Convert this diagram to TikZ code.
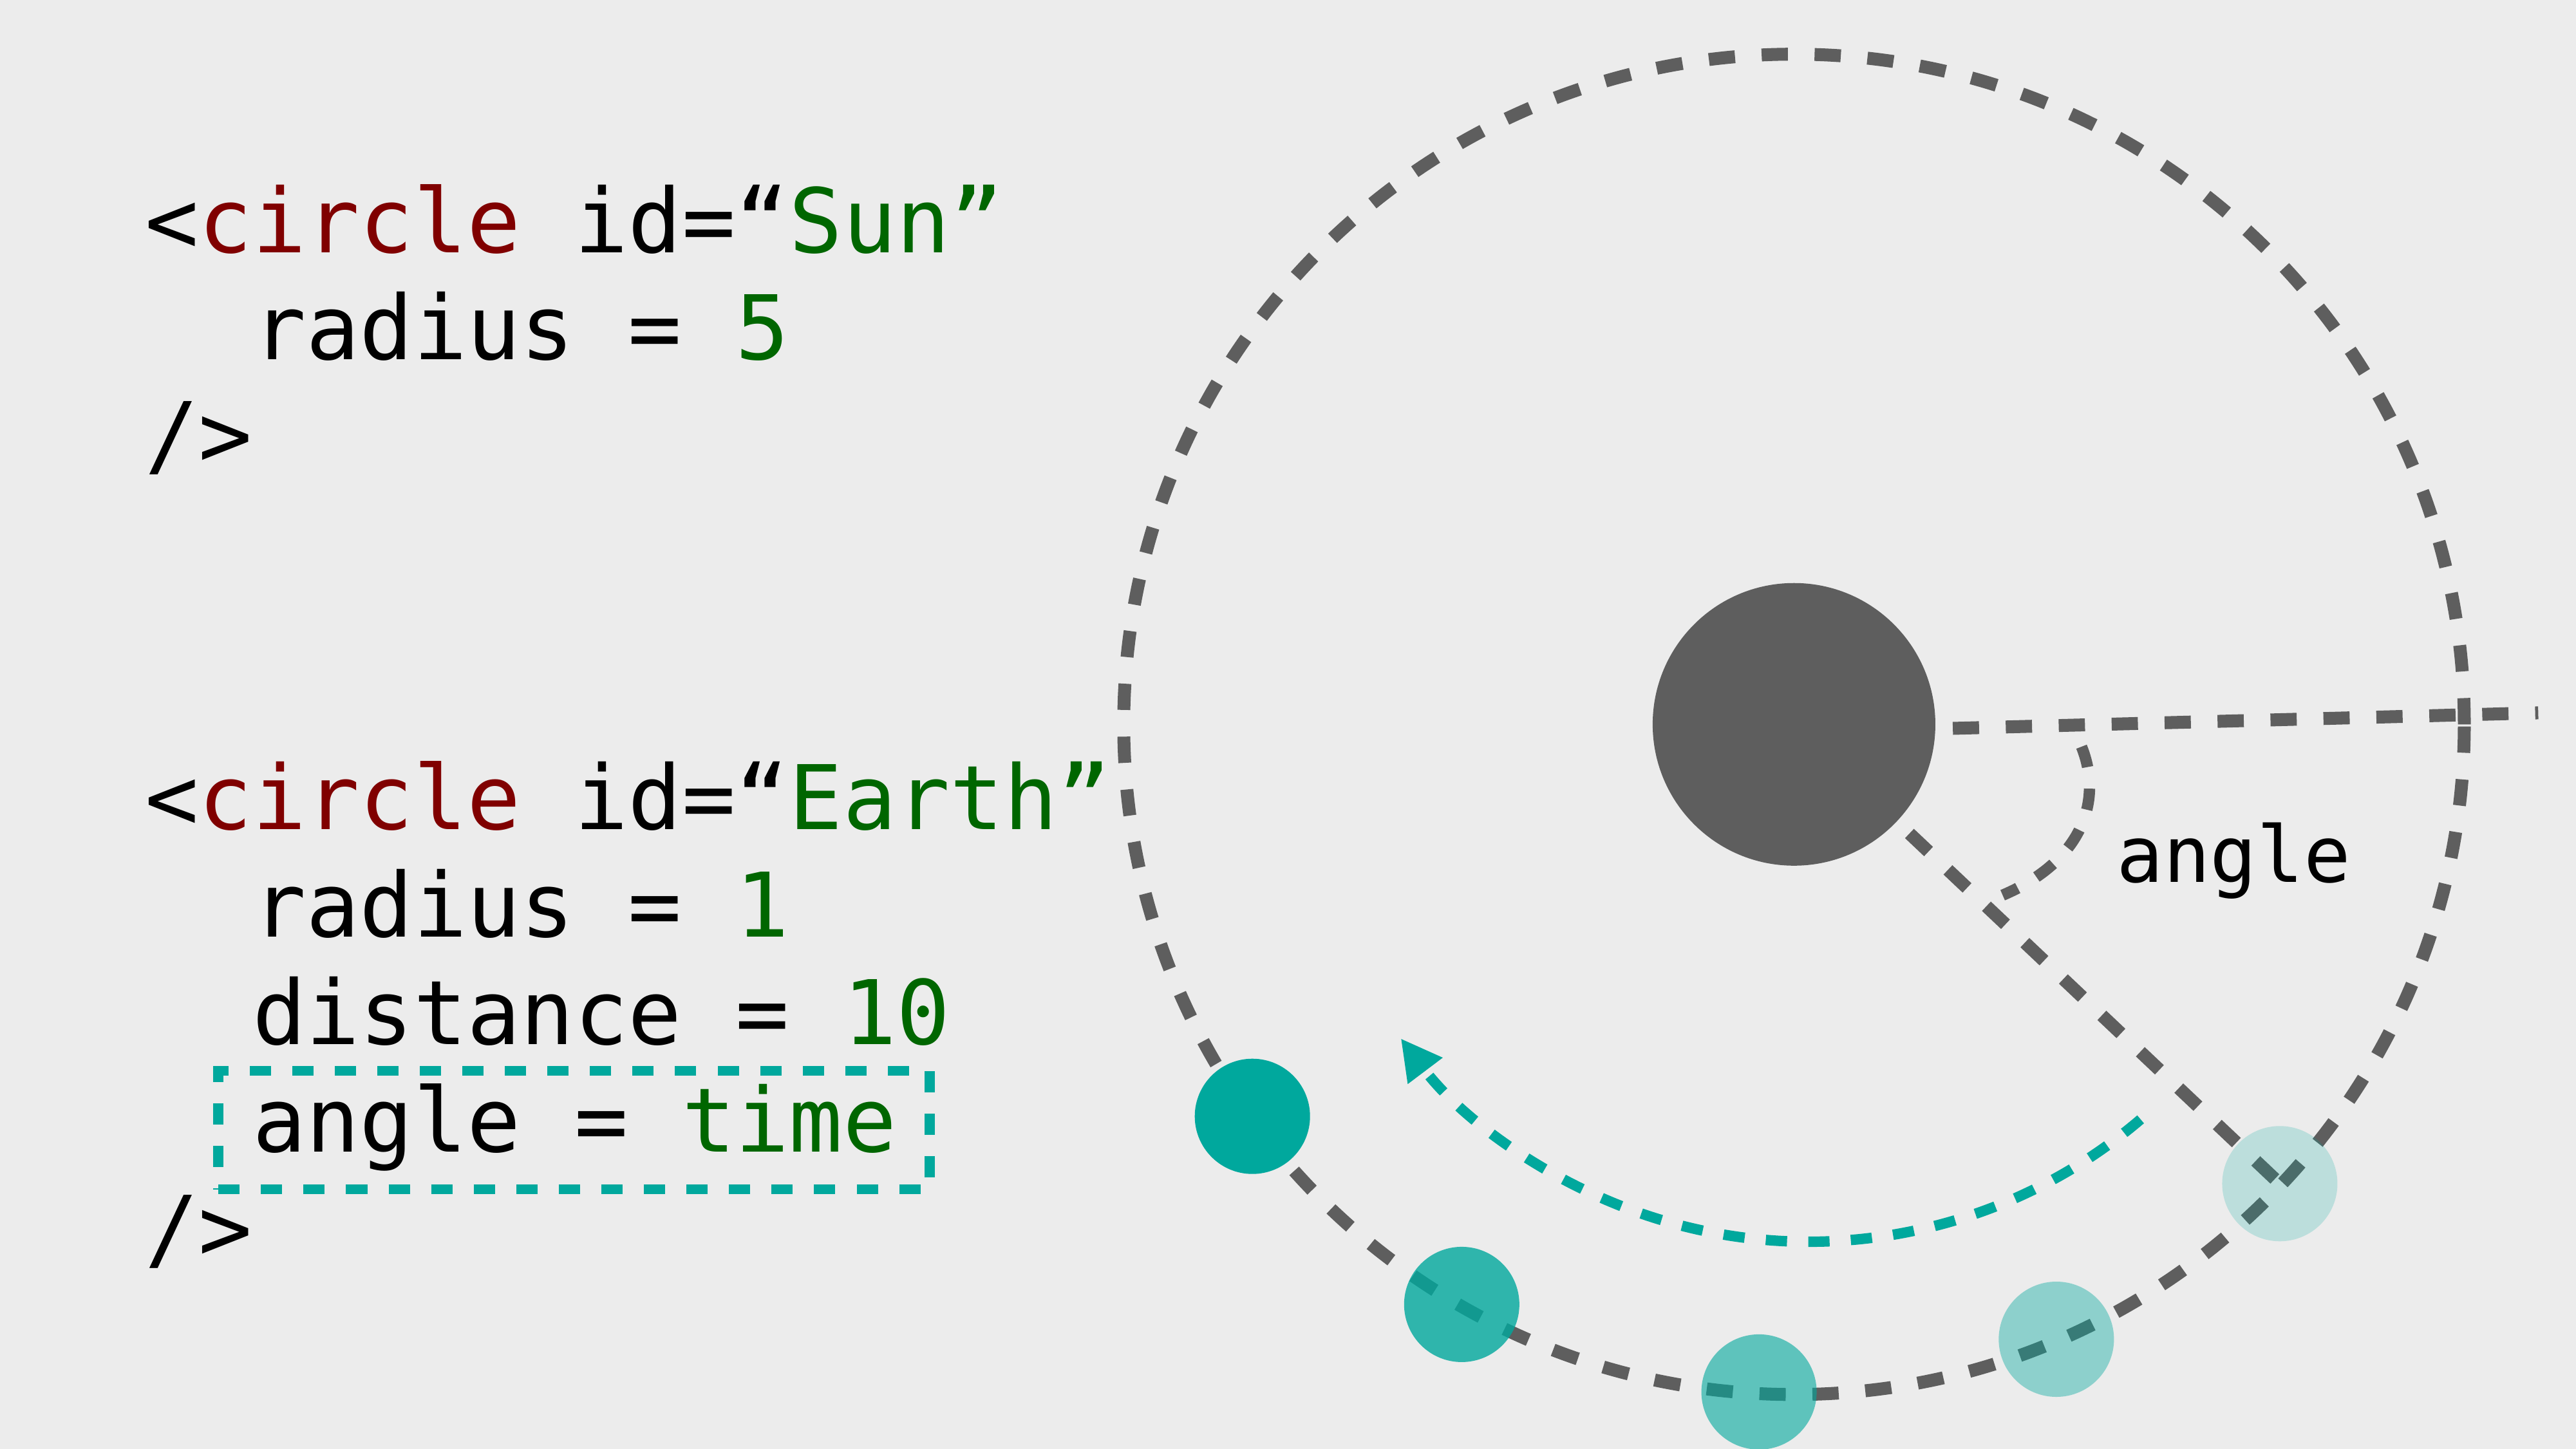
\documentclass[tikz,border=0pt]{standalone}
\usepackage{fontspec}
\setmonofont{DejaVu Sans Mono}
\usepackage{tikz}
\usetikzlibrary{arrows.meta,calc}
\usepackage{xcolor}
\definecolor{orbitgray}{HTML}{5E5E5E}
\definecolor{orbitteal}{HTML}{00A89D}
\definecolor{codemaroon}{HTML}{800000}
\definecolor{codegreen}{HTML}{006600}
\definecolor{slidebg}{HTML}{ECECEC}
\newcommand{\codefont}{\fontsize{39.4}{47}\selectfont\ttfamily}
\newcommand{\codekw}[1]{\textcolor{codemaroon}{#1}}
\newcommand{\codeval}[1]{\textcolor{codegreen}{#1}}
\newcommand{\codeind}{\hphantom{xx}}
\tikzset{
  codeline/.style={
    anchor=base west,
    inner sep=0pt,
    font=\codefont
  },
  orbitline/.style={
    draw=orbitgray,
    line width=5.7pt,
    dash pattern=on 11.6pt off 11.8pt
  },
  anglearc/.style={
    draw=orbitgray,
    line width=5pt,
    dash pattern=on 9.4pt off 9.6pt
  },
  spinarrow/.style={
    draw=orbitteal,
    line width=4.6pt,
    dash pattern=on 9.4pt off 9.4pt,
    -{Triangle[length=18pt,width=18pt]}
  },
  hlbox/.style={
    draw=orbitteal,
    line width=4.5pt,
    dash pattern=on 9.4pt off 9.4pt,
    minimum width=11.05cm,
    minimum height=1.84cm,
    inner sep=0pt
  },
  sunball/.style={
    circle,
    fill=orbitgray,
    minimum size=4.39cm,
    inner sep=0pt
  },
  earthball/.style={
    circle,
    fill=orbitteal,
    minimum size=1.79cm,
    inner sep=0pt
  }
}

\begin{document}
\begin{tikzpicture}[x=0.025517cm, y=0.025517cm]
\fill[slidebg] (0,0) rectangle (1568,882);
\useasboundingbox (0,0) rectangle (1568,882);

% orbit geometry
\coordinate (sc) at (1092,441);
\foreach \ang [count=\i] in {-144.1,-119.8,-93,-66.9,-43.4}
  \coordinate (p\i) at ($(sc)+(\ang:407)$);
\coordinate (refstart) at (1092,436);
\coordinate (refend) at (1545,448);
\coordinate (arcstart) at (1267,427.4);
\coordinate (arcend) at (1219,337);
\coordinate (spinc) at (1101,437);

\draw[orbitline] (sc) circle[radius=408];
\draw[orbitline] (refstart) -- (refend);
\draw[orbitline] (sc) -- (p5);
\draw[anglearc] (arcstart) .. controls (1280,395) and (1268,358) .. (arcend);
\draw[spinarrow] ($(spinc)+(-49.5:311)$) arc[start angle=-49.5, end angle=-143, radius=311];

\node[sunball] (sun) at (sc) {};
\foreach \op [count=\i] in {1,0.8,0.6,0.4,0.2}
  \node[earthball, fill opacity=\op] (e\i) at (p\i) {};

\node[codeline, font=\fontsize{34.4}{41}\selectfont\ttfamily] (anglelabel) at (1288,345) {angle};

% code on the left
\node[codeline] (sunopen) at (88,728) {<\codekw{circle} id=“\codeval{Sun”}};
\node[codeline] (sunrad) at (88,663) {\codeind radius = \codeval{5}};
\node[codeline] (sunclose) at (88,598) {/>};

\node[codeline] (earthopen) at (88,377) {<\codekw{circle} id=“\codeval{Earth”}};
\node[codeline] (earthrad) at (88,311.5) {\codeind radius = \codeval{1}};
\node[codeline] (earthdist) at (88,246) {\codeind distance = \codeval{10}};
\node[codeline] (earthangle) at (88,180.5) {\codeind angle = \codeval{time}};
\node[codeline] (earthclose) at (88,115) {/>};
\node[hlbox] (hl) at (349.5,194) {};
\end{tikzpicture}
\end{document}
